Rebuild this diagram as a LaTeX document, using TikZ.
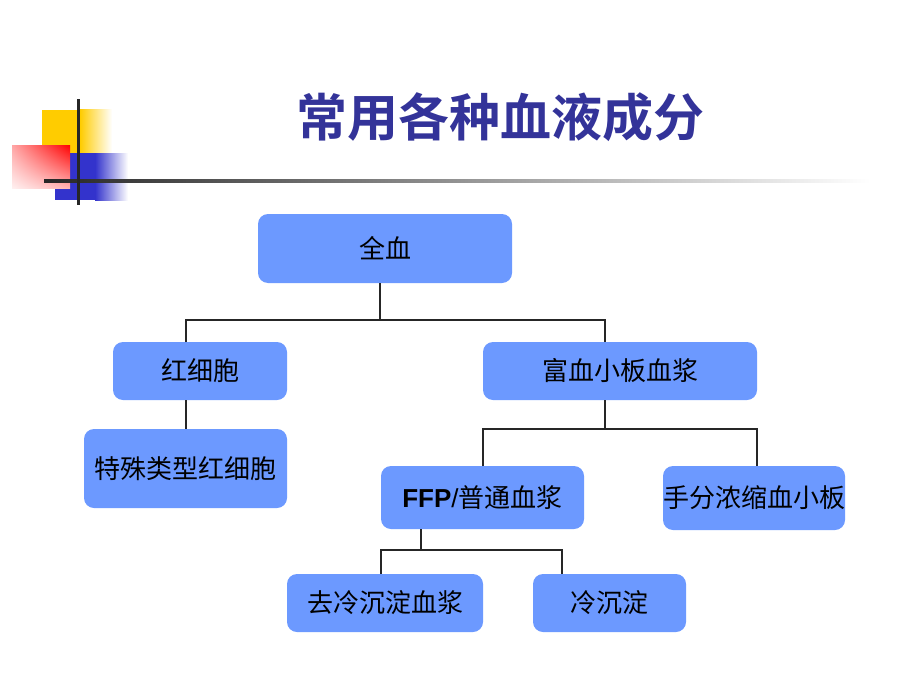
\documentclass[tikz,border=0pt]{standalone}
\usepackage{fontspec}
\usetikzlibrary{shadings}
\setmainfont{Noto Sans CJK SC}
\newfontfamily\cjkbold{Noto Sans CJK SC Bold}
\newfontfamily\arialfont{Liberation Sans}
\definecolor{boxblue}{RGB}{108,153,255}
\definecolor{titleblue}{RGB}{51,51,153}
\definecolor{decoyellow}{RGB}{255,204,0}
\definecolor{decoblue}{RGB}{51,51,204}
\definecolor{decored}{RGB}{255,0,0}
\begin{document}
\begin{tikzpicture}[x=1pt,y=-1pt,
  box/.style={draw=none,fill=boxblue,rounded corners=10pt,inner sep=0pt,font=\fontsize{26}{30}\selectfont},
  conn/.style={line width=1.3pt,black!85}]
\useasboundingbox (0,0) rectangle (920,690);
\fill[white] (0,0) rectangle (920,690);
% decoration
\fill[decoyellow] (42,110) rectangle (80,153);
\shade[left color=decoyellow,right color=white] (80,110) rectangle (112,153);
\fill[decoblue] (55,153) rectangle (95,200);
\shade[left color=decoblue,right color=white] (95,153) rectangle (128,200);
\shade[upper right=decored,upper left=red!35,lower left=red!6,lower right=red!30] (12,145) rectangle (70,188);
\shade[left color=black!85,right color=white] (44,179.5) rectangle (870,182.5);
\fill[black!85] (76.5,99) rectangle (79.5,205);
% title
\node[font=\cjkbold\fontsize{51}{55}\selectfont,text=titleblue] (title) at (500,117) {常用各种血液成分};
% boxes
\node[box,minimum width=254pt,minimum height=69pt] (whole) at (385,248.5) {全血};
\node[box,minimum width=174pt,minimum height=58pt] (rbc) at (200,371) {红细胞};
\node[box,minimum width=274pt,minimum height=58pt] (prp) at (620,371) {富血小板血浆};
\node[box,minimum width=203pt,minimum height=79pt] (srbc) at (185.5,468.5) {特殊类型红细胞};
\node[box,minimum width=203pt,minimum height=63pt] (ffp) at (482.5,497.5) {{\arialfont\bfseries FFP}{\arialfont /}普通血浆};
\node[box,minimum width=181pt,minimum height=64pt] (plt) at (754,498) {手分浓缩血小板};
\node[box,minimum width=196pt,minimum height=58pt] (cpp) at (385,603) {去冷沉淀血浆};
\node[box,minimum width=153pt,minimum height=58pt] (cryo) at (609.5,603) {冷沉淀};
% connector coordinates
\coordinate (a0) at (380,283);
\coordinate (a1) at (380,320);
\coordinate (aL) at (186,320);
\coordinate (aR) at (605,320);
\coordinate (rbcTop) at (186,342);
\coordinate (prpTop) at (605,342);
\coordinate (rbcBot) at (186,400);
\coordinate (srbcTop) at (186,429);
\coordinate (b0) at (605,400);
\coordinate (b1) at (605,429);
\coordinate (bL) at (483,429);
\coordinate (bR) at (757,429);
\coordinate (ffpTop) at (483,466);
\coordinate (pltTop) at (757,466);
\coordinate (c0) at (421,529);
\coordinate (c1) at (421,550);
\coordinate (cL) at (381,550);
\coordinate (cR) at (562,550);
\coordinate (cppTop) at (381,574);
\coordinate (cryoTop) at (562,574);
\draw[conn] (a0) -- (a1);
\draw[conn] (rbcTop) -- (aL) -- (aR) -- (prpTop);
\draw[conn] (rbcBot) -- (srbcTop);
\draw[conn] (b0) -- (b1);
\draw[conn] (ffpTop) -- (bL) -- (bR) -- (pltTop);
\draw[conn] (c0) -- (c1);
\draw[conn] (cppTop) -- (cL) -- (cR) -- (cryoTop);
\end{tikzpicture}
\end{document}
